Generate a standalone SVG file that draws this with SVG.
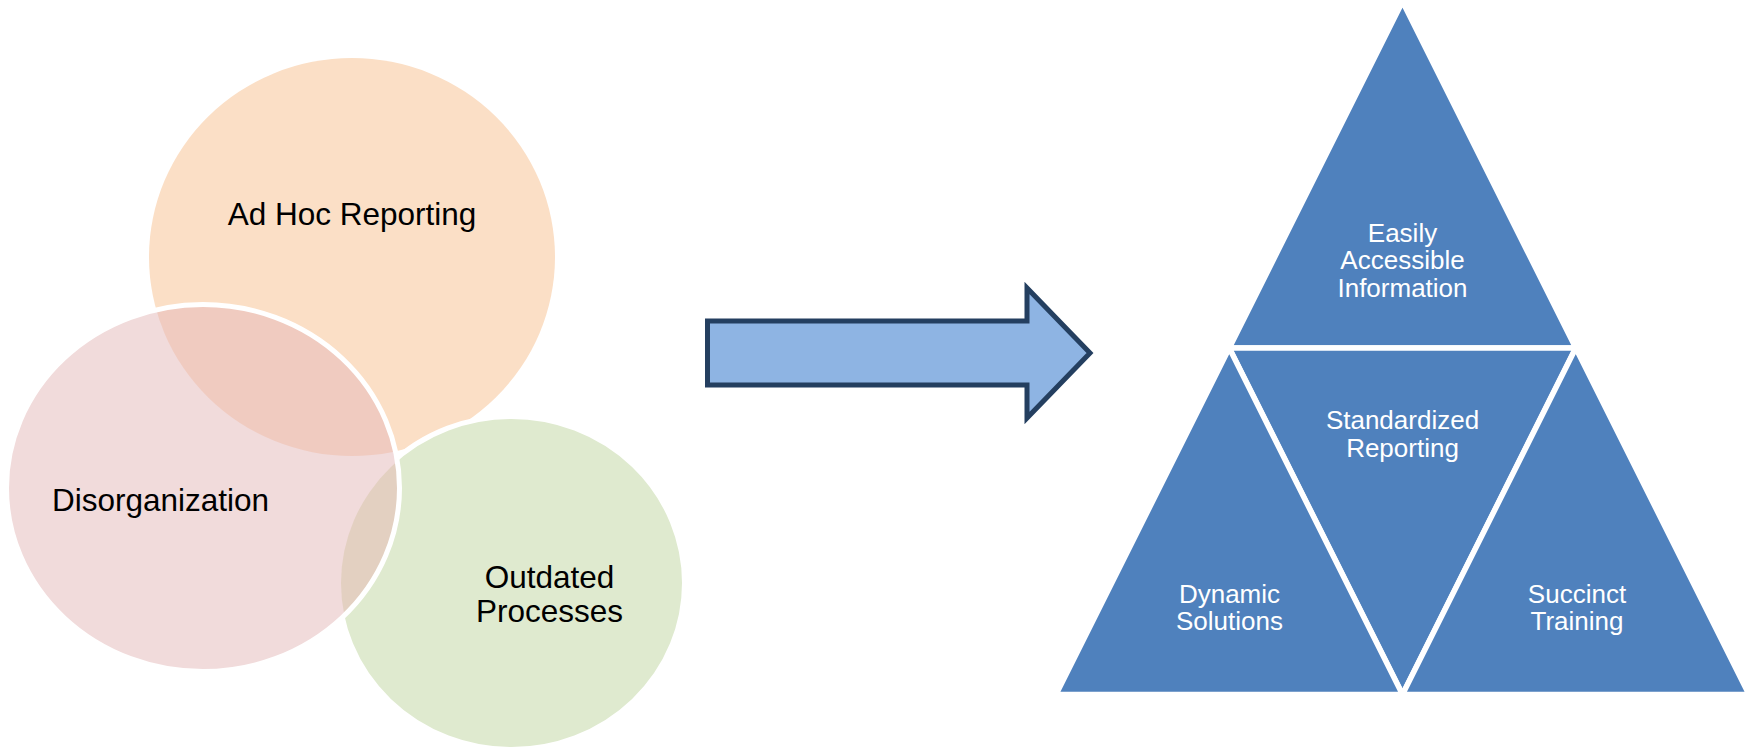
<svg xmlns="http://www.w3.org/2000/svg" width="1754" height="749" viewBox="0 0 1754 749">
<style>
.lbl{font-family:"Liberation Sans",Arial,sans-serif;font-size:31.5px;fill:#000;text-anchor:middle}
.tri{fill:#4F81BD;stroke:#fff;stroke-width:5.5;stroke-linejoin:miter}
.tl{font-family:"Liberation Sans",Arial,sans-serif;font-size:26px;fill:#fff;text-anchor:middle}
.ws{fill:none;stroke:#fff;stroke-width:5}
</style>
<defs>
<clipPath id="inPink"><ellipse cx="203" cy="488" rx="196.5" ry="183.5"/></clipPath>
<clipPath id="outPink"><path fill-rule="evenodd" clip-rule="evenodd" d="M0,0H1754V749H0Z M6.5,488a196.5,183.5 0 1,0 393,0a196.5,183.5 0 1,0 -393,0Z"/></clipPath>
</defs>
<rect width="1754" height="749" fill="#fff"/>
<g id="venn">
<g id="node-adhoc">
<ellipse cx="352" cy="257" rx="203" ry="199" fill="#FBDFC6"/>
<text class="lbl" x="352" y="225">Ad Hoc Reporting</text>
</g>
<g id="node-outdated">
<ellipse cx="511.5" cy="583" rx="173" ry="166.5" fill="#DFEACF"/>
<ellipse cx="511.5" cy="583" rx="173" ry="166.5" class="ws" clip-path="url(#outPink)"/>
</g>
<g id="node-disorg">
<ellipse cx="203" cy="488" rx="196.5" ry="183.5" fill="#F1DBDB"/>
<g clip-path="url(#inPink)">
<ellipse cx="352" cy="257" rx="203" ry="199" fill="#F0CBC0"/>
<ellipse cx="511.5" cy="583" rx="170.5" ry="164" fill="#E3D0C1"/>
</g>
<ellipse cx="203" cy="488" rx="196.5" ry="183.5" class="ws"/>
<text class="lbl" x="160.5" y="510.5">Disorganization</text>
</g>
<text class="lbl" x="549.5" y="588">Outdated</text>
<text class="lbl" x="549.5" y="621.5">Processes</text>
</g>
<g id="connectors">
<path d="M707.5,321 L1027,321 L1027,288 L1090,353 L1027,418 L1027,385 L707.5,385 Z" fill="#8EB4E3" stroke="#243F60" stroke-width="5" stroke-linejoin="miter"/>
</g>
<g id="node-easily">
<polygon class="tri" points="1402.5,1.5 1575.75,348 1229.25,348"/>
<text class="tl" x="1402.5" y="241.5">Easily</text>
<text class="tl" x="1402.5" y="268.5">Accessible</text>
<text class="tl" x="1402.5" y="296.5">Information</text>
</g>
<g id="node-standardized">
<polygon class="tri" points="1229.25,348 1575.75,348 1402.5,694.5"/>
<text class="tl" x="1402.5" y="428.5">Standardized</text>
<text class="tl" x="1402.5" y="456.5">Reporting</text>
</g>
<g id="node-dynamic">
<polygon class="tri" points="1229.25,348 1402.5,694.5 1056,694.5"/>
<text class="tl" x="1229.5" y="602.5">Dynamic</text>
<text class="tl" x="1229.5" y="630">Solutions</text>
</g>
<g id="node-succinct">
<polygon class="tri" points="1575.75,348 1749,694.5 1402.5,694.5"/>
<text class="tl" x="1577" y="602.5">Succinct</text>
<text class="tl" x="1577" y="630">Training</text>
</g>
</svg>
